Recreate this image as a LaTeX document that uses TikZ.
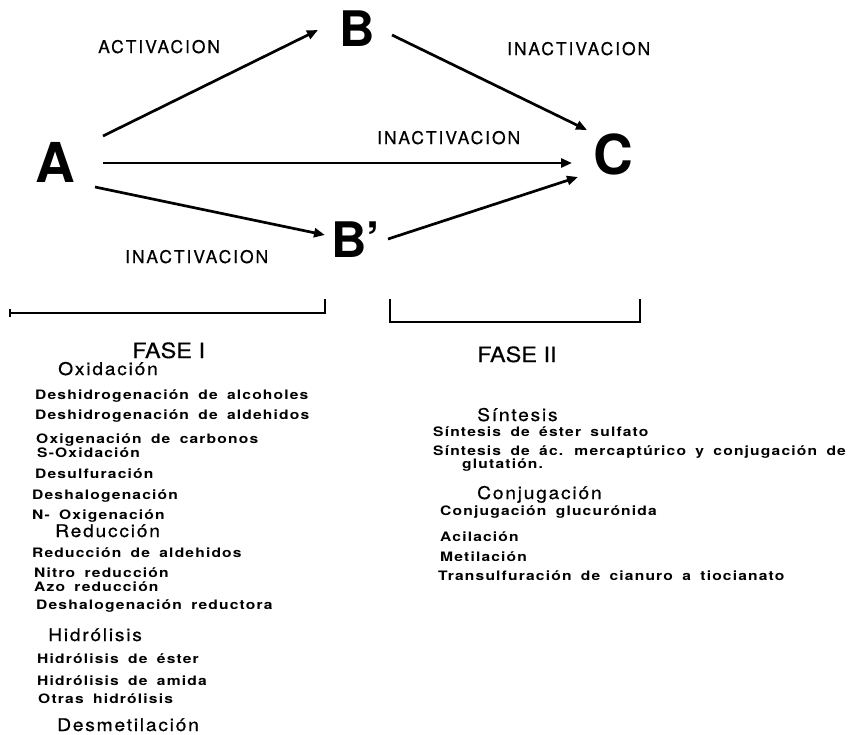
\documentclass[tikz,border=0pt]{standalone}
\usepackage{fontspec}
\setmainfont{TeX Gyre Heros}
\newfontfamily\itemfont[FakeStretch=1.2, LetterSpace=9, WordSpace=1.7]{TeX Gyre Heros}
\newfontfamily\headfont[FakeStretch=1.1, LetterSpace=10, FakeBold=0.6]{TeX Gyre Heros}
\newfontfamily\labfont[LetterSpace=11, FakeBold=0.5]{TeX Gyre Heros}
\newfontfamily\fasefont[FakeStretch=1.12, FakeBold=0.3]{TeX Gyre Heros}
\usetikzlibrary{arrows.meta,calc}

\tikzset{
  letter/.style={inner sep=0pt, font=\bfseries\fontsize{55}{60}\selectfont},
  letterB/.style={inner sep=0pt, font=\bfseries\fontsize{49}{54}\selectfont},
  arr/.style={line width=2.7pt, -{Triangle[length=11pt,width=9pt]}},
  lab/.style={anchor=base west, inner sep=0pt, font=\labfont\fontsize{17.5}{20}\selectfont},
  fase/.style={anchor=base west, inner sep=0pt, font=\fasefont\fontsize{21}{24}\selectfont},
  head/.style={anchor=base west, inner sep=0pt, font=\headfont\fontsize{17.5}{20}\selectfont},
  item/.style={anchor=base west, inner sep=0pt, font=\itemfont\bfseries\fontsize{13}{15}\selectfont},
  bracket/.style={line width=1.3pt}
}

\begin{document}
\begin{tikzpicture}[x=1pt,y=-1pt]
\useasboundingbox (0,0) rectangle (858,734);

% compounds
\node[letter]  (A)  at (55,162)  {A};
\node[letterB] (B)  at (357,29)  {B};
\node[letterB] (Bp) at (356,240) {B’};
\node[letter]  (C)  at (613,154) {C};

% transformations
\draw[arr] ($(A)+(48,-26)$) -- ($(B)+(-39,1)$);
\draw[arr] ($(A)+(48,1)$)   -- ($(C)+(-41,9)$);
\draw[arr] ($(A)+(40,25)$)  -- ($(Bp)+(-31,-5)$);
\draw[arr] ($(B)+(35,6)$)   -- ($(C)+(-26,-24)$);
\draw[arr] ($(Bp)+(32,-1)$) -- ($(C)+(-35,23)$);

\node[lab] (l1) at (98,53)   {ACTIVACION};
\node[lab] (l2) at (507,55)  {INACTIVACION};
\node[lab] (l3) at (377,144) {INACTIVACION};
\node[lab] (l4) at (125,263) {INACTIVACION};

% phase brackets
\draw[bracket] (10,309) -- (10,317);
\draw[bracket] (10,313) -- (325,313) -- (325,299);
\draw[bracket] (390,299) -- (390,322) -- (640,322) -- (640,299);

\node[fase] (f1) at (132,358) {FASE I};
\node[fase] (f2) at (477,362) {FASE II};

% phase I reactions
\node[head] (h1) at (58,375)  {Oxidación};
\node[item] (i1) at (35,399)  {Deshidrogenación de alcoholes};
\node[item] (i2) at (35,419)  {Deshidrogenación de aldehidos};
\node[item] (i3) at (36,443)  {Oxigenación de carbonos};
\node[item] (i4) at (37,457)  {S-Oxidación};
\node[item] (i5) at (35,478)  {Desulfuración};
\node[item] (i6) at (32,499)  {Deshalogenación};
\node[item] (i7) at (32,519)  {N- Oxigenación};
\node[head] (h2) at (55,537)  {Reducción};
\node[item] (i8) at (32,557)  {Reducción de aldehidos};
\node[item] (i9) at (34,577)  {Nitro reducción};
\node[item] (i10) at (34,591) {Azo reducción};
\node[item] (i11) at (36,609) {Deshalogenación reductora};
\node[head] (h3) at (48,641)  {Hidrólisis};
\node[item] (i12) at (37,663) {Hidrólisis de éster};
\node[item] (i13) at (37,685) {Hidrólisis de amida};
\node[item] (i14) at (38,703) {Otras hidrólisis};
\node[head] (h4) at (57,731)  {Desmetilación};

% phase II reactions
\node[head] (h5) at (477,421) {Síntesis};
\node[item] (j1) at (433,436) {Síntesis de éster sulfato};
\node[item] (j2) at (433,455) {Síntesis de ác. mercaptúrico y conjugación de};
\node[item] (j3) at (462,468) {glutatión.};
\node[head] (h6) at (477,499) {Conjugación};
\node[item] (j4) at (440,515) {Conjugación glucurónida};
\node[item] (j5) at (440,541) {Acilación};
\node[item] (j6) at (440,561) {Metilación};
\node[item] (j7) at (438,580) {Transulfuración de cianuro a tiocianato};
\end{tikzpicture}
\end{document}
